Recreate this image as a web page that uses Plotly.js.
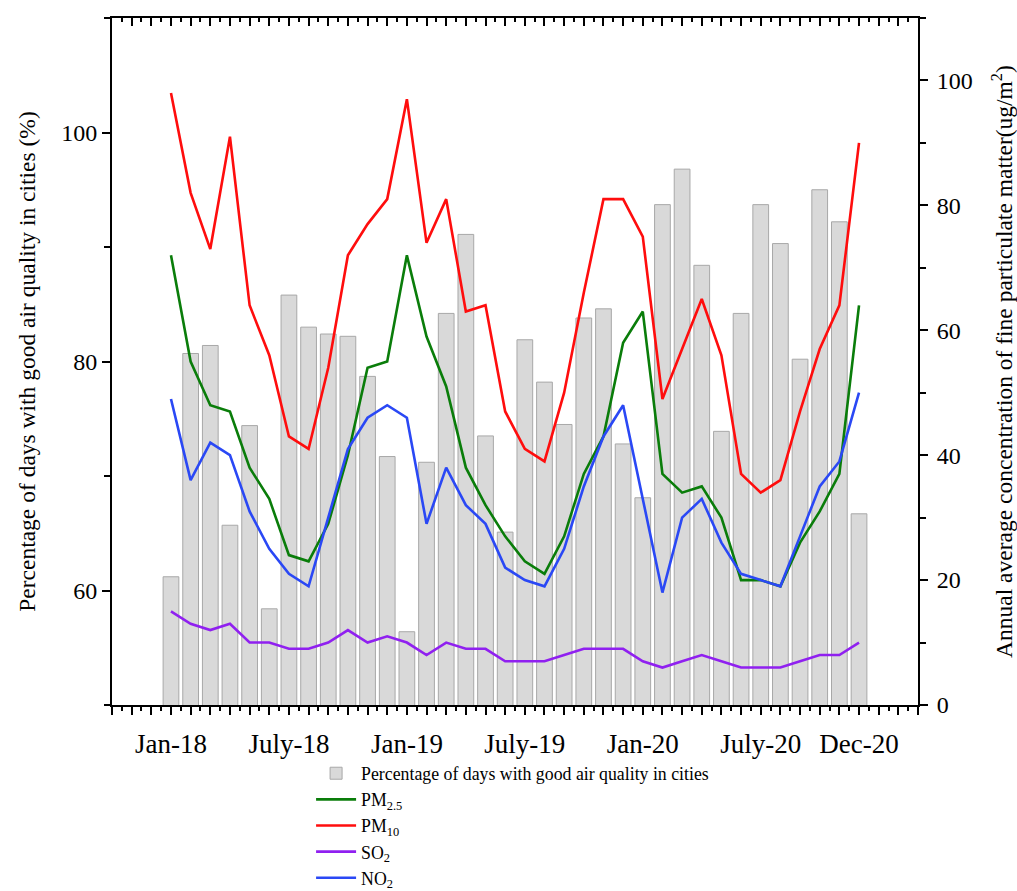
<!DOCTYPE html>
<html>
<head>
<meta charset="utf-8">
<script src="https://cdn.plot.ly/plotly-3.0.1.min.js"></script>
<style>html,body{margin:0;padding:0;background:#fff;}#chart{width:1017px;height:891px;}</style>
</head>
<body>
<div id="chart"></div>
<script>
// Month index 0 = Jan-18 ... 35 = Dec-20
var months = ['Jan-18','Feb-18','Mar-18','Apr-18','May-18','Jun-18','Jul-18','Aug-18','Sep-18','Oct-18','Nov-18','Dec-18',
              'Jan-19','Feb-19','Mar-19','Apr-19','May-19','Jun-19','Jul-19','Aug-19','Sep-19','Oct-19','Nov-19','Dec-19',
              'Jan-20','Feb-20','Mar-20','Apr-20','May-20','Jun-20','Jul-20','Aug-20','Sep-20','Oct-20','Nov-20','Dec-20'];
var labelMonths = ['Jan-18','Jul-18','Jan-19','Jul-19','Jan-20','Jul-20','Dec-20'];
var labelTexts  = ['Jan-18','July-18','Jan-19','July-19','Jan-20','July-20','Dec-20'];

var goodDays = [61.2, 80.7, 81.4, 65.7, 74.4, 58.4, 85.8, 83.0, 82.4, 82.2, 78.7, 71.7,
                56.4, 71.2, 84.2, 91.1, 73.5, 65.1, 81.9, 78.2, 74.5, 83.8, 84.6, 72.8,
                68.1, 93.7, 96.8, 88.4, 73.9, 84.2, 93.7, 90.3, 80.2, 95.0, 92.2, 66.7];
var pm25 = [72, 55, 48, 47, 38, 33, 24, 23, 29, 40, 54, 55,
            72, 59, 51, 38, 32, 27, 23, 21, 27, 37, 43, 58,
            63, 37, 34, 35, 30, 20, 20, 19, 26, 31, 37, 64];
var pm10 = [98, 82, 73, 91, 64, 56, 43, 41, 54, 72, 77, 81,
            97, 74, 81, 63, 64, 47, 41, 39, 50, 66, 81, 81,
            75, 49, 57, 65, 56, 37, 34, 36, 47, 57, 64, 90];
var so2  = [15, 13, 12, 13, 10, 10, 9, 9, 10, 12, 10, 11,
            10, 8, 10, 9, 9, 7, 7, 7, 8, 9, 9, 9,
            7, 6, 7, 8, 7, 6, 6, 6, 7, 8, 8, 10];
var no2  = [49, 36, 42, 40, 31, 25, 21, 19, 30, 41, 46, 48,
            46, 29, 38, 32, 29, 22, 20, 19, 25, 35, 43, 48,
            33, 18, 30, 33, 26, 21, 20, 19, 27, 35, 39, 50];

var xIdx = months.map(function(m, i){ return i; });
var xRange = [-3, 38];
var majorTicks = [];
for (var k = xRange[0]; k <= xRange[1]; k++) majorTicks.push(k);
var majorText = majorTicks.map(function(k){
  var j = (k >= 0 && k < months.length) ? labelMonths.indexOf(months[k]) : -1;
  return j >= 0 ? labelTexts[j] : '';
});

var FONT = 'Liberation Serif, Times New Roman, serif';

var traces = [
  {type:'bar', x:xIdx, y:goodDays, name:'Percentage of days with good air quality in cities',
   marker:{color:'#d9d9d9', line:{color:'#a8a8a8', width:1}}, width:0.8, xaxis:'x', yaxis:'y'},
  {type:'scatter', mode:'lines', x:xIdx, y:pm25, name:'PM<sub>2.5</sub>', line:{color:'#0a7d0a', width:2.6}, xaxis:'x', yaxis:'y2'},
  {type:'scatter', mode:'lines', x:xIdx, y:pm10, name:'PM<sub>10</sub>', line:{color:'#ff0d0d', width:2.6}, xaxis:'x', yaxis:'y2'},
  {type:'scatter', mode:'lines', x:xIdx, y:so2, name:'SO<sub>2</sub>', line:{color:'#9020f0', width:2.6}, xaxis:'x', yaxis:'y2'},
  {type:'scatter', mode:'lines', x:xIdx, y:no2, name:'NO<sub>2</sub>', line:{color:'#2a48f5', width:2.6}, xaxis:'x', yaxis:'y2'},
  {type:'scatter', mode:'lines', x:[], y:[], xaxis:'x2', yaxis:'y', showlegend:false, hoverinfo:'skip'}
];

var layout = {
  width:1017, height:891,
  margin:{l:112, r:99, t:18, b:186, autoexpand:false},
  paper_bgcolor:'#fff', plot_bgcolor:'#fff',
  font:{family:FONT, color:'#000', size:20},
  showlegend:true,
  bargap:0.2,
  xaxis:{
    range:xRange, tickmode:'array', tickvals:majorTicks, ticktext:majorText, automargin:false,
    ticks:'outside', ticklen:8, tickwidth:2, tickcolor:'#000', ticklabelstandoff:6,
    minor:{tickmode:'linear', tick0:0.5, dtick:1, ticks:'outside', ticklen:4, tickwidth:2, tickcolor:'#000'},
    showline:true, linewidth:2, linecolor:'#000', showgrid:false, zeroline:false,
    tickfont:{family:FONT, size:27, color:'#000'}
  },
  xaxis2:{
    overlaying:'x', side:'top', range:xRange, tickmode:'array', tickvals:majorTicks, automargin:false,
    ticks:'inside', ticklen:8, tickwidth:2, tickcolor:'#000', showticklabels:false,
    minor:{tickmode:'linear', tick0:0.5, dtick:1, ticks:'inside', ticklen:4, tickwidth:2, tickcolor:'#000'},
    showline:true, linewidth:2, linecolor:'#000', showgrid:false, zeroline:false
  },
  yaxis:{
    range:[50,110], tickmode:'array', tickvals:[60,80,100], automargin:false,
    ticks:'outside', ticklen:8, tickwidth:2, tickcolor:'#000',
    minor:{tickmode:'linear', tick0:50, dtick:20, ticks:'outside', ticklen:6, tickwidth:2, tickcolor:'#000'},
    showline:true, linewidth:2, linecolor:'#000', showgrid:false, zeroline:false,
    tickfont:{family:FONT, size:24, color:'#000'},
    title:{text:'Percentage of days with good air quality in cities (%)', font:{family:FONT, size:23.5, color:'#000'}, standoff:19}
  },
  yaxis2:{
    overlaying:'y', side:'right', range:[0,110], tickmode:'array', tickvals:[0,20,40,60,80,100], automargin:false,
    ticks:'outside', ticklen:8, tickwidth:2, tickcolor:'#000', ticklabelstandoff:4,
    minor:{tickmode:'linear', tick0:10, dtick:20, ticks:'outside', ticklen:6, tickwidth:2, tickcolor:'#000'},
    showline:true, linewidth:2, linecolor:'#000', showgrid:false, zeroline:false,
    tickfont:{family:FONT, size:24, color:'#000'},
    title:{text:'Annual average concentration of fine particulate matter(ug/m<sup>2</sup>)', font:{family:FONT, size:23.5, color:'#000'}, standoff:24}
  },
  legend:{
    x:0.247, y:-0.073, xanchor:'left', yanchor:'top', orientation:'v',
    font:{family:FONT, size:17.8, color:'#000'}, bgcolor:'rgba(0,0,0,0)',
    itemwidth:40, tracegroupgap:0, traceorder:'normal'
  }
};

Plotly.newPlot('chart', traces, layout, {displayModeBar:false, staticPlot:true});
</script>
</body>
</html>
